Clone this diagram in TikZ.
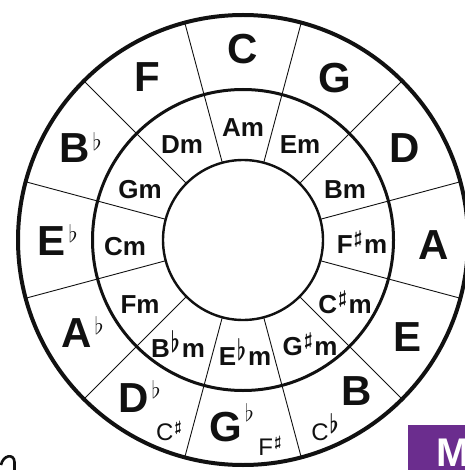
\documentclass[tikz,border=0pt]{standalone}
\usepackage{fontspec}
\usepackage{graphicx}
\setmainfont{Liberation Sans}
\definecolor{mpurple}{HTML}{6B2D8E}
\definecolor{ink}{HTML}{111111}
\newcommand\bflat{{\boldmath$\flat$}}
\newcommand\bsharp{{\boldmath$\sharp$}}
\newcommand\majflat[1]{\rlap{\hspace{2.5pt}\smash{\raisebox{#1}{\resizebox{9pt}{18pt}{$\flat$}}}}}
\newcommand\minflat{\hspace{1pt}\smash{\raisebox{5pt}{\resizebox{9pt}{22pt}{\bflat}}}\hspace{2pt}}
\newcommand\minsharp{\hspace{1pt}\smash{\raisebox{10pt}{\resizebox*{9pt}{16pt}{\bsharp}}}\hspace{1.5pt}}
\newcommand\enhsharp{\hspace{1pt}\smash{\raisebox{9pt}{\resizebox*{7.5pt}{13pt}{\bsharp}}}}
\newcommand\enhflat{\hspace{1pt}\smash{\raisebox{7pt}{\resizebox{9pt}{20pt}{\bflat}}}}
\begin{document}
\begin{tikzpicture}[x=1pt,y=-1pt,
  outerring/.style={draw=ink,line width=4pt},
  midring/.style={draw=ink,line width=3pt},
  innerring/.style={draw=ink,line width=2.4pt},
  spoke/.style={draw=ink,line width=0.9pt},
  major/.style={font=\fontsize{42}{44}\selectfont\bfseries,inner sep=0pt,text=ink},
  minor/.style={font=\fontsize{26}{28}\selectfont\bfseries,inner sep=0pt,text=ink},
  enh/.style={font=\fontsize{24}{26}\selectfont,inner sep=0pt,text=ink}]
\useasboundingbox (0,0) rectangle (464,470);
\coordinate (O) at (243,240);
% spokes
\foreach \a in {15,45,...,345}
  \draw[spoke,shift={(O)}] (\a:80) -- (\a:225);
% rings
\draw[outerring] (O) circle[radius=225];
\draw[midring] (O) circle[radius=150.5];
\draw[innerring] (O) circle[radius=80];
% major keys
\node[major] (kC)  at (243,49)  {C};
\node[major] (kG)  at (335,78)  {G};
\node[major] (kD)  at (405,148) {D};
\node[major] (kA)  at (434,245) {A};
\node[major] (kE)  at (407,337) {E};
\node[major] (kB)  at (357,391) {B};
\node[major] (kGb) at (226,427) {G\majflat{20pt}};
\node[major] (kDb) at (134,398) {D\majflat{14pt}};
\node[major] (kAb) at (77,333)  {A\majflat{13pt}};
\node[major] (kEb) at (52,241)  {E\majflat{13pt}};
\node[major] (kBb) at (75,148)  {B\majflat{12pt}};
\node[major] (kF)  at (147,77)  {F};
% minor keys
\node[minor] (mA)  at (243,128) {Am};
\node[minor] (mE)  at (300,145) {Em};
\node[minor] (mB)  at (345,190) {Bm};
\node[minor] (mFs) at (362,245) {F\minsharp m};
\node[minor] (mCs) at (345,305) {C\minsharp m};
\node[minor] (mGs) at (310,347) {G\minsharp m};
\node[minor] (mEb) at (245,357) {E\minflat m};
\node[minor] (mBb) at (178,349) {B\minflat m};
\node[minor] (mF)  at (140,305) {Fm};
\node[minor] (mC)  at (125,247) {Cm};
\node[minor] (mG)  at (140,190) {Gm};
\node[minor] (mD)  at (182,145) {Dm};
% enharmonic names
\node[enh] (eCs) at (169,432) {C\enhsharp};
\node[enh] (eFs) at (270,447) {F\enhsharp};
\node[enh] (eCb) at (325,432) {C\enhflat};
% purple tab
\fill[mpurple] (408,425) rectangle (470,476);
\node[font=\fontsize{40}{42}\selectfont\bfseries,text=white,inner sep=0pt,anchor=west] (logo) at (436,453) {M};
% fragment lower left
\draw[ink,line width=2.6pt] (1,465) .. controls (3,455) and (14,453) .. (14.5,462) -- (14.5,472);
\end{tikzpicture}
\end{document}
